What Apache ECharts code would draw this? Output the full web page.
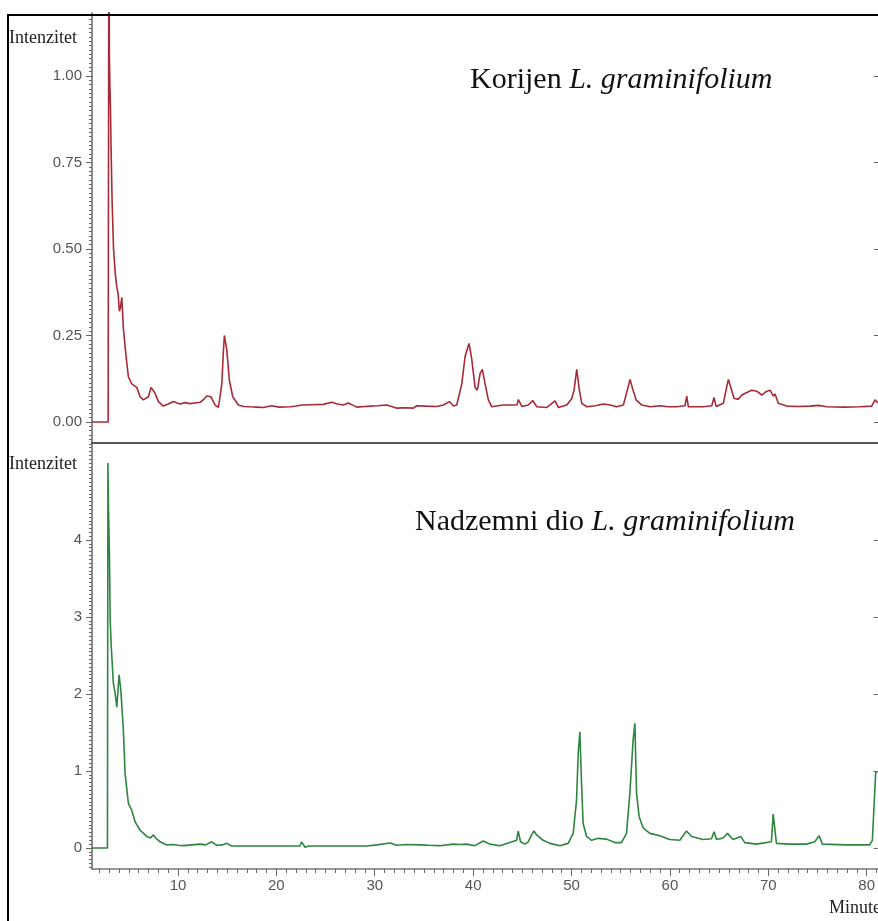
<!DOCTYPE html>
<html>
<head>
<meta charset="utf-8">
<script src="https://cdn.jsdelivr.net/npm/echarts@6/dist/echarts.min.js"></script>
<style>
  html, body { margin: 0; padding: 0; background: #fff; }
  #chart { width: 878px; height: 921px; }
</style>
</head>
<body>
<div id="chart"></div>
<script>
// ---- Data ----
const korijenTime = [
  1.26, 2.90, 2.93, 2.97, 3.03, 3.08, 3.14, 3.20, 3.30, 3.45,
  3.62, 3.78, 3.92, 4.04, 4.15, 4.29, 4.45, 4.72, 4.96, 5.30,
  5.81, 6.15, 6.48, 6.99, 7.26, 7.45, 7.67, 8.01, 8.51, 9.0,
  9.53, 10.2, 10.7, 11.23, 11.7, 12.24, 12.6, 12.92, 13.1, 13.33,
  13.77, 14.10, 14.30, 14.45, 14.6, 14.71, 14.95, 15.22, 15.56, 16.13,
  16.7, 17.32, 18.0, 18.67, 19.5, 20.3, 21.39, 22.0, 22.57, 23.5,
  24.77, 25.62, 26.2, 26.80, 27.31, 27.8, 28.16, 29.0, 29.51, 30.3,
  31.21, 31.7, 32.23, 33.0, 33.91, 34.26, 35.2, 36.29, 36.96, 37.57,
  37.98, 38.32, 38.83, 39.17, 39.57, 39.85, 40.18, 40.41, 40.69, 40.92,
  41.20, 41.53, 41.88, 42.5, 43.06, 44.07, 44.45, 44.58, 44.93, 45.60,
  46.04, 46.45, 47.47, 48.31, 48.64, 49.50, 50.01, 50.24, 50.51, 50.78,
  51.02, 51.53, 52.4, 53.22, 53.90, 54.58, 55.25, 55.65, 55.93, 56.20,
  56.54, 57.12, 57.96, 58.98, 59.8, 60.67, 61.51, 61.69, 61.85, 63.37,
  64.23, 64.46, 64.67, 65.41, 65.68, 65.92, 66.16, 66.50, 66.93, 67.28,
  67.79, 68.29, 68.80, 69.31, 69.75, 70.15, 70.49, 70.66, 70.99, 71.85,
  73.0, 74.21, 75.06, 75.91, 77.60, 79.29, 80.48, 80.82, 81.09
];
const korijenIntensity = [
  0, 0, 0, 1.40, 1.05, 0.97, 0.90, 0.79, 0.64, 0.50,
  0.43, 0.39, 0.37, 0.32, 0.33, 0.36, 0.27, 0.19, 0.13, 0.11,
  0.10, 0.073, 0.064, 0.073, 0.10, 0.095, 0.083, 0.059, 0.046, 0.052,
  0.059, 0.052, 0.056, 0.053, 0.055, 0.057, 0.065, 0.075, 0.07, 0.073,
  0.049, 0.042, 0.08, 0.11, 0.20, 0.25, 0.21, 0.12, 0.073, 0.049,
  0.045, 0.044, 0.043, 0.042, 0.047, 0.043, 0.044, 0.046, 0.049, 0.05,
  0.051, 0.057, 0.052, 0.049, 0.055, 0.048, 0.043, 0.045, 0.046, 0.047,
  0.049, 0.045, 0.04, 0.041, 0.04, 0.047, 0.046, 0.045, 0.049, 0.059,
  0.046, 0.049, 0.11, 0.19, 0.227, 0.18, 0.10, 0.092, 0.14, 0.152,
  0.11, 0.064, 0.044, 0.047, 0.049, 0.049, 0.05, 0.065, 0.045, 0.049,
  0.062, 0.044, 0.042, 0.061, 0.042, 0.049, 0.068, 0.092, 0.152, 0.092,
  0.054, 0.044, 0.047, 0.052, 0.049, 0.044, 0.049, 0.092, 0.123, 0.095,
  0.064, 0.049, 0.044, 0.047, 0.044, 0.044, 0.047, 0.075, 0.044, 0.044,
  0.047, 0.071, 0.045, 0.054, 0.092, 0.123, 0.10, 0.068, 0.066, 0.078,
  0.085, 0.092, 0.089, 0.078, 0.088, 0.092, 0.075, 0.081, 0.054, 0.046,
  0.045, 0.046, 0.048, 0.044, 0.043, 0.044, 0.046, 0.064, 0.055
];

const nadzemniTime = [
  1.26, 2.83, 2.88, 2.95, 3.03, 3.10, 3.20, 3.43, 3.61, 3.78,
  4.01, 4.19, 4.45, 4.62, 4.96, 5.30, 5.64, 6.15, 6.5, 6.83,
  7.2, 7.50, 7.8, 8.18, 8.86, 9.53, 10.0, 10.55, 11.4, 12.24,
  12.8, 13.43, 13.94, 14.5, 14.95, 15.46, 17.0, 19.02, 20.5, 22.4,
  22.57, 22.91, 23.3, 26.0, 29.18, 30.2, 31.55, 32.23, 33.24, 34.59,
  35.5, 36.62, 37.98, 38.6, 39.34, 40.18, 41.02, 41.70, 42.72, 43.73,
  44.42, 44.58, 44.82, 45.26, 45.60, 45.94, 46.18, 46.45, 47.12, 47.80,
  48.82, 49.66, 50.17, 50.51, 50.68, 50.85, 51.02, 51.18, 51.53, 52.04,
  52.71, 53.56, 54.40, 55.08, 55.59, 55.93, 56.26, 56.44, 56.61, 56.87,
  57.28, 57.96, 58.98, 59.99, 61.01, 61.69, 62.20, 63.37, 64.23, 64.49,
  64.74, 65.41, 65.85, 66.42, 67.20, 67.61, 68.80, 70.32, 70.50, 70.65,
  70.83, 72.18, 73.88, 74.73, 75.16, 75.50, 77.94, 80.31, 80.58, 80.92,
  81.12
];
const nadzemniIntensity = [
  0, 0, 5.0, 4.3, 3.83, 3.0, 2.66, 2.14, 2.01, 1.83,
  2.25, 2.05, 1.53, 0.97, 0.58, 0.49, 0.34, 0.23, 0.19, 0.15,
  0.13, 0.17, 0.12, 0.08, 0.04, 0.045, 0.035, 0.03, 0.04, 0.05,
  0.04, 0.08, 0.035, 0.04, 0.06, 0.025, 0.025, 0.025, 0.025, 0.025,
  0.08, 0.01, 0.025, 0.025, 0.025, 0.04, 0.065, 0.035, 0.045, 0.04,
  0.035, 0.03, 0.05, 0.045, 0.05, 0.03, 0.09, 0.05, 0.03, 0.07,
  0.10, 0.22, 0.08, 0.05, 0.08, 0.17, 0.22, 0.17, 0.10, 0.06,
  0.03, 0.06, 0.19, 0.62, 1.23, 1.51, 0.84, 0.32, 0.15, 0.10,
  0.125, 0.115, 0.07, 0.07, 0.19, 0.71, 1.40, 1.62, 0.71, 0.41,
  0.26, 0.19, 0.16, 0.11, 0.10, 0.22, 0.15, 0.11, 0.12, 0.21,
  0.11, 0.13, 0.19, 0.11, 0.15, 0.07, 0.05, 0.08, 0.44, 0.44,
  0.06, 0.05, 0.05, 0.08, 0.16, 0.05, 0.04, 0.04, 0.10, 0.99,
  0.99
];

// Tick labels
const topYLabels = [0, 0.25, 0.5, 0.75, 1.0];
const bottomYLabels = [0, 1, 2, 3, 4];
const xLabels = [10, 20, 30, 40, 50, 60, 70, 80];
const titleTop = ['Korijen', 'L. graminifolium'];
const titleBottom = ['Nadzemni dio', 'L. graminifolium'];
const yAxisName = 'Intenzitet';
const xAxisName = 'Minute';

// ---- Axis extents ----
const xMin = 1.26, xMax = 81.12;
const topMin = -0.0607, topMax = 1.182;
const botMin = -0.273, botMax = 5.26;

function steps(from, to, step) {
  const out = [];
  const n = Math.round((to - from) / step);
  for (let i = 0; i <= n; i++) out.push(+(from + i * step).toFixed(4));
  return out;
}
const xMinorTicks = steps(2, 81, 1);
const topMinorTicks = steps(-0.05, 1.175, 0.0125);
const botMinorTicks = steps(-0.25, 5.25, 0.05);

const chart = echarts.init(document.getElementById('chart'), null, { renderer: 'canvas' });

const labelFont = { color: '#555', fontSize: 15, fontFamily: 'Liberation Sans, Arial, sans-serif' };
const tickColor = '#666';

function ySet(gridIndex, min, max, labels, minor, fmt) {
  return [
    {
      gridIndex, type: 'value', min, max, position: 'left',
      axisLine: { show: true, onZero: false, lineStyle: { color: '#666', width: 1.5 } },
      axisTick: { show: true, customValues: labels, length: 6, lineStyle: { color: tickColor } },
      axisLabel: Object.assign({ customValues: labels, margin: 10, formatter: fmt }, labelFont),
      splitLine: { show: false }
    },
    {
      gridIndex, type: 'value', min, max, position: 'left',
      axisLine: { show: false, onZero: false },
      axisTick: { show: true, customValues: minor, length: 3, lineStyle: { color: tickColor } },
      axisLabel: { show: false },
      splitLine: { show: false }
    },
    {
      gridIndex, type: 'value', min, max, position: 'right',
      axisLine: { show: false, onZero: false },
      axisTick: { show: true, inside: true, customValues: labels, length: 4, lineStyle: { color: tickColor } },
      axisLabel: { show: false },
      splitLine: { show: false }
    }
  ];
}

const richTitle = {
  a: { fontFamily: 'Liberation Serif', fontSize: 30, fontWeight: 'normal', color: '#111' },
  b: { fontFamily: 'Liberation Serif', fontSize: 30, fontWeight: 'normal', fontStyle: 'italic', color: '#111' }
};

const option = {
  animation: false,
  backgroundColor: '#ffffff',
  title: [
    {
      text: '{a|' + titleTop[0] + ' }{b|' + titleTop[1] + '}',
      left: 470, top: 65, padding: 0,
      textStyle: { fontWeight: 'normal', rich: richTitle }
    },
    {
      text: '{a|' + titleBottom[0] + ' }{b|' + titleBottom[1] + '}',
      left: 415, top: 507, padding: 0,
      textStyle: { fontWeight: 'normal', rich: richTitle }
    }
  ],
  grid: [
    { left: 92, right: 0, top: 13, height: 430 },
    { left: 92, right: 0, top: 443, height: 426 }
  ],
  xAxis: [
    {
      gridIndex: 0, type: 'value', min: xMin, max: xMax, position: 'bottom',
      axisLine: { show: true, onZero: false, lineStyle: { color: '#555', width: 2 } },
      axisTick: { show: false }, axisLabel: { show: false }, splitLine: { show: false }
    },
    {
      gridIndex: 1, type: 'value', min: xMin, max: xMax, position: 'bottom',
      axisLine: { show: true, onZero: false, lineStyle: { color: '#777', width: 1.5 } },
      axisTick: { show: true, customValues: xLabels, length: 7, lineStyle: { color: tickColor } },
      axisLabel: Object.assign({ customValues: xLabels, margin: 9 }, labelFont),
      splitLine: { show: false }
    },
    {
      gridIndex: 1, type: 'value', min: xMin, max: xMax, position: 'bottom',
      axisLine: { show: false, onZero: false },
      axisTick: { show: true, customValues: xMinorTicks, length: 4, lineStyle: { color: tickColor } },
      axisLabel: { show: false }, splitLine: { show: false }
    }
  ],
  yAxis: [].concat(
    ySet(0, topMin, topMax, topYLabels, topMinorTicks, v => v.toFixed(2)),
    ySet(1, botMin, botMax, bottomYLabels, botMinorTicks, v => String(Math.round(v)))
  ),
  series: [
    {
      name: titleTop.join(' '), type: 'line', xAxisIndex: 0, yAxisIndex: 0,
      data: korijenTime.map((t, i) => [t, korijenIntensity[i]]),
      showSymbol: false, symbol: 'none', clip: true,
      lineStyle: { color: '#a82a36', width: 1.6 }
    },
    {
      name: titleBottom.join(' '), type: 'line', xAxisIndex: 1, yAxisIndex: 3,
      data: nadzemniTime.map((t, i) => [t, nadzemniIntensity[i]]),
      showSymbol: false, symbol: 'none', clip: true,
      lineStyle: { color: '#2e8540', width: 1.6 }
    }
  ],
  graphic: [
    {
      type: 'rect', z: 100, silent: true,
      shape: { x: 8, y: 15, width: 900, height: 950 },
      style: { fill: 'none', stroke: '#000', lineWidth: 2 }
    },
    {
      type: 'text', left: 9, top: 29, z: 100,
      style: { text: yAxisName, fontFamily: 'Liberation Serif', fontSize: 18, fill: '#222' }
    },
    {
      type: 'text', left: 9, top: 455, z: 100,
      style: { text: yAxisName, fontFamily: 'Liberation Serif', fontSize: 18, fill: '#222' }
    },
    {
      type: 'text', left: 829, top: 899, z: 100,
      style: { text: xAxisName, fontFamily: 'Liberation Serif', fontSize: 18, fill: '#222' }
    }
  ]
};

chart.setOption(option);
</script>
</body>
</html>
